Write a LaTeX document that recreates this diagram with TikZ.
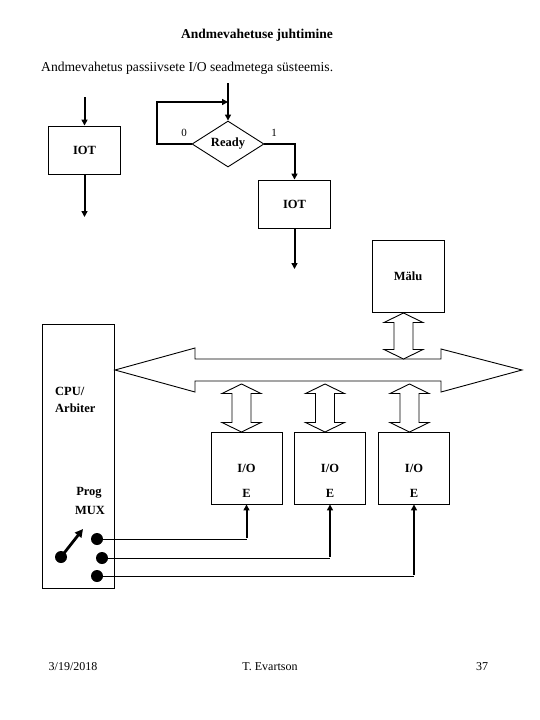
\documentclass[tikz,border=0pt]{standalone}
\usepackage{fontspec}
\setmainfont{Liberation Serif}
\usetikzlibrary{arrows.meta,shapes.geometric}
\begin{document}
\begin{tikzpicture}[x=1pt,y=-1pt,
  lbl/.style={font=\bfseries\fontsize{12.5}{14}\selectfont,inner sep=0pt},
  txt/.style={font=\fontsize{12}{14}\selectfont,inner sep=0pt},
  box/.style={draw,line width=0.9pt,minimum width=72pt,minimum height=48pt,inner sep=0pt,font=\bfseries\fontsize{12.5}{14}\selectfont},
  iobox/.style={draw,line width=0.9pt,minimum width=71pt,minimum height=72pt,inner sep=0pt},
  flow/.style={line width=2pt,-{Triangle[length=6pt,width=6pt]}},
  wire/.style={line width=0.9pt},
  dot/.style={circle,fill=black,minimum size=12pt,inner sep=0pt},
  hollow/.style={draw,line width=0.9pt,fill=white,line join=miter}]
\useasboundingbox (0,0) rectangle (540,720);
% titles
\node[font=\bfseries\fontsize{13.5}{15}\selectfont] (title) at (257,35) {Andmevahetuse juhtimine};
\node[font=\fontsize{13.6}{15}\selectfont,anchor=west,inner sep=0pt] (sub) at (41,68) {Andmevahetus passiivsete I/O seadmetega süsteemis.};
% left IOT
\node[box] (iot1) at (84.5,150) {IOT};
\coordinate (i1in) at (84.5,97);
\coordinate (i1out) at (84.5,217);
\draw[flow] (i1in) -- (iot1.north);
\draw[flow] (iot1.south) -- (i1out);
% Ready decision
\node[diamond,draw,line width=0.9pt,minimum width=72pt,minimum height=46pt,inner sep=0pt,font=\bfseries\fontsize{12.5}{14}\selectfont] (dia) at (228,144) {Ready};
\coordinate (din) at (228,83);
\coordinate (loopa) at (157,144);
\coordinate (loopb) at (157,102);
\coordinate (loopc) at (228,102);
\draw[flow] (din) -- (dia.north);
\draw[flow] (dia.west) -- (loopa) -- (loopb) -- (loopc);
\node[txt,font=\fontsize{11}{13}\selectfont] (l0) at (184,133) {0};
\node[txt,font=\fontsize{11}{13}\selectfont] (l1) at (274,133) {1};
\node[box] (iot2) at (294.5,204) {IOT};
\coordinate (i2out) at (294.5,269);
\draw[flow] (dia.east) -| (iot2.north);
\draw[flow] (iot2.south) -- (i2out);
% memory
\node[box,minimum height=72pt] (mem) at (408,276) {Mälu};
% bus
\draw[hollow] (115,370) -- (195,348) -- (195,359) -- (441,359) -- (441,349) -- (522,370) -- (441,392) -- (441,381) -- (195,381) -- (195,392) -- cycle;
% vertical double arrows
\newcommand\vdblarrow[3]{%
  \draw[hollow] (#1,#2) -- (#1+19.5,#2+9.5) -- (#1+9.5,#2+9.5) -- (#1+9.5,#3-9.5) -- (#1+19.5,#3-9.5) -- (#1,#3) -- (#1-19.5,#3-9.5) -- (#1-9.5,#3-9.5) -- (#1-9.5,#2+9.5) -- (#1-19.5,#2+9.5) -- cycle;}
\vdblarrow{403.5}{313}{359}
\vdblarrow{241.5}{384}{432}
\vdblarrow{325}{384}{432}
\vdblarrow{409.5}{384}{432}
% I/O boxes
\foreach \n/\x in {1/246.5,2/330,3/414}{
  \node[iobox] (io\n) at (\x,468) {};
  \node[lbl] (io\n t) at (\x,468) {I/O};
  \node[lbl] (io\n e) at (\x,493) {E};
}
% CPU
\node[draw,line width=0.9pt,minimum width=72pt,minimum height=264pt,inner sep=0pt] (cpu) at (78,456) {};
\node[lbl,anchor=west] (cpu1) at (55,391) {CPU/};
\node[lbl,anchor=west] (cpu2) at (55,408) {Arbiter};
\node[lbl] (prog) at (89,493) {Prog};
\node[lbl] (mux) at (90,510) {MUX};
% switch
\node[dot] (piv) at (61,557) {};
\coordinate (swtip) at (83,529);
\draw[line width=2.8pt,-{Triangle[length=8pt,width=8pt]}] (piv.center) -- (swtip);
\node[dot] (d1) at (97,539) {};
\node[dot] (d2) at (102,558) {};
\node[dot] (d3) at (97,576) {};
\foreach \n/\x/\y in {1/246.5/539,2/330/558,3/414/576}{
  \coordinate (c\n) at (\x,\y);
  \draw[wire] (d\n.center) -- (c\n);
  \draw[flow] ([yshift=0.9pt]c\n) -- (io\n.south);
}
% footer
\node[txt] (date) at (73,667) {3/19/2018};
\node[txt] (auth) at (270,667) {T. Evartson};
\node[txt] (page) at (482,667) {37};
\end{tikzpicture}
\end{document}
